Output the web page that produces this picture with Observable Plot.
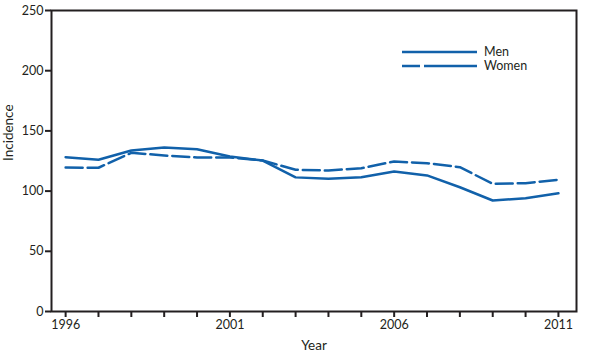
<!DOCTYPE html>
<html>
<head>
<meta charset="utf-8">
<script src="https://cdn.jsdelivr.net/npm/d3@7"></script>
<script src="https://cdn.jsdelivr.net/npm/@observablehq/plot@0.6"></script>
<style>
  html, body { margin: 0; padding: 0; background: #fff; }
  #wrap { position: relative; width: 597px; height: 354px; }
  #legend { position: absolute; left: 400px; top: 42px; font-family: Lato, sans-serif; font-size: 12px; color: #231f20; }
</style>
</head>
<body>
<div id="wrap">
  <div id="chart"></div>
  <svg id="legend" width="140" height="34"></svg>
</div>
<script>
const years = [1996,1997,1998,1999,2000,2001,2002,2003,2004,2005,2006,2007,2008,2009,2010,2011];
const menValues = [128.2,126.0,133.7,136.3,134.8,128.7,125.4,111.4,110.2,111.5,116.3,113.0,103.2,92.2,94.1,98.2];
const womenValues = [119.6,119.4,131.8,129.6,127.9,127.9,125.4,117.7,117.1,119.0,124.6,123.2,119.9,106.0,106.6,109.4];
const labeledYears = [1996, 2001, 2006, 2011];
const yTicks = [0, 50, 100, 150, 200, 250];
const seriesNames = ["Men", "Women"];

const color = "#1161aa";
const ink = "#231f20";
const men = years.map((year, i) => ({year, value: menValues[i]}));
const women = years.map((year, i) => ({year, value: womenValues[i]}));

const chart = Plot.plot({
  width: 597,
  height: 354,
  marginLeft: 51,
  marginRight: 21,
  marginTop: 10,
  marginBottom: 43,
  style: {fontFamily: "Lato, sans-serif", fontSize: "12px", color: ink, background: "#fff"},
  x: {domain: [1995.57, 2011.55]},
  y: {domain: [0, 250]},
  marks: [
    Plot.line(men, {x: "year", y: "value", stroke: color, strokeWidth: 2.5}),
    Plot.line(women, {x: "year", y: "value", stroke: color, strokeWidth: 2.5, strokeDasharray: "17,5"}),
    Plot.frame({stroke: ink, strokeWidth: 2}),
    Plot.axisY({ticks: yTicks, tickSize: 6, tickPadding: 2, label: null, stroke: ink, strokeWidth: 2, fill: ink, fontSize: 12.5}),
    Plot.axisX({ticks: years, tickSize: 6, tickPadding: 3, label: null, stroke: ink, strokeWidth: 2, fill: ink, fontSize: 12.5,
      tickFormat: d => labeledYears.includes(d) ? String(d) : ""}),
    Plot.text(["Incidence"], {text: d => d, frameAnchor: "left", rotate: -90, dx: -43, fill: ink, fontSize: 13.5}),
    Plot.text(["Year"], {text: d => d, frameAnchor: "bottom", dy: 38, fill: ink, fontSize: 13.5})
  ]
});
document.getElementById("chart").appendChild(chart);

// Legend
const lg = d3.select("#legend");
seriesNames.forEach((name, i) => {
  const y = 10 + i * 14;
  lg.append("line").attr("x1", 2).attr("x2", 77).attr("y1", y).attr("y2", y)
    .attr("stroke", color).attr("stroke-width", 2.5)
    .attr("stroke-dasharray", i === 1 ? "18,4,100" : null);
  lg.append("text").attr("x", 84).attr("y", y).attr("dy", "0.35em")
    .attr("fill", ink).style("font-family", "Lato, sans-serif").style("font-size", "12.5px").text(name);
});
</script>
</body>
</html>
